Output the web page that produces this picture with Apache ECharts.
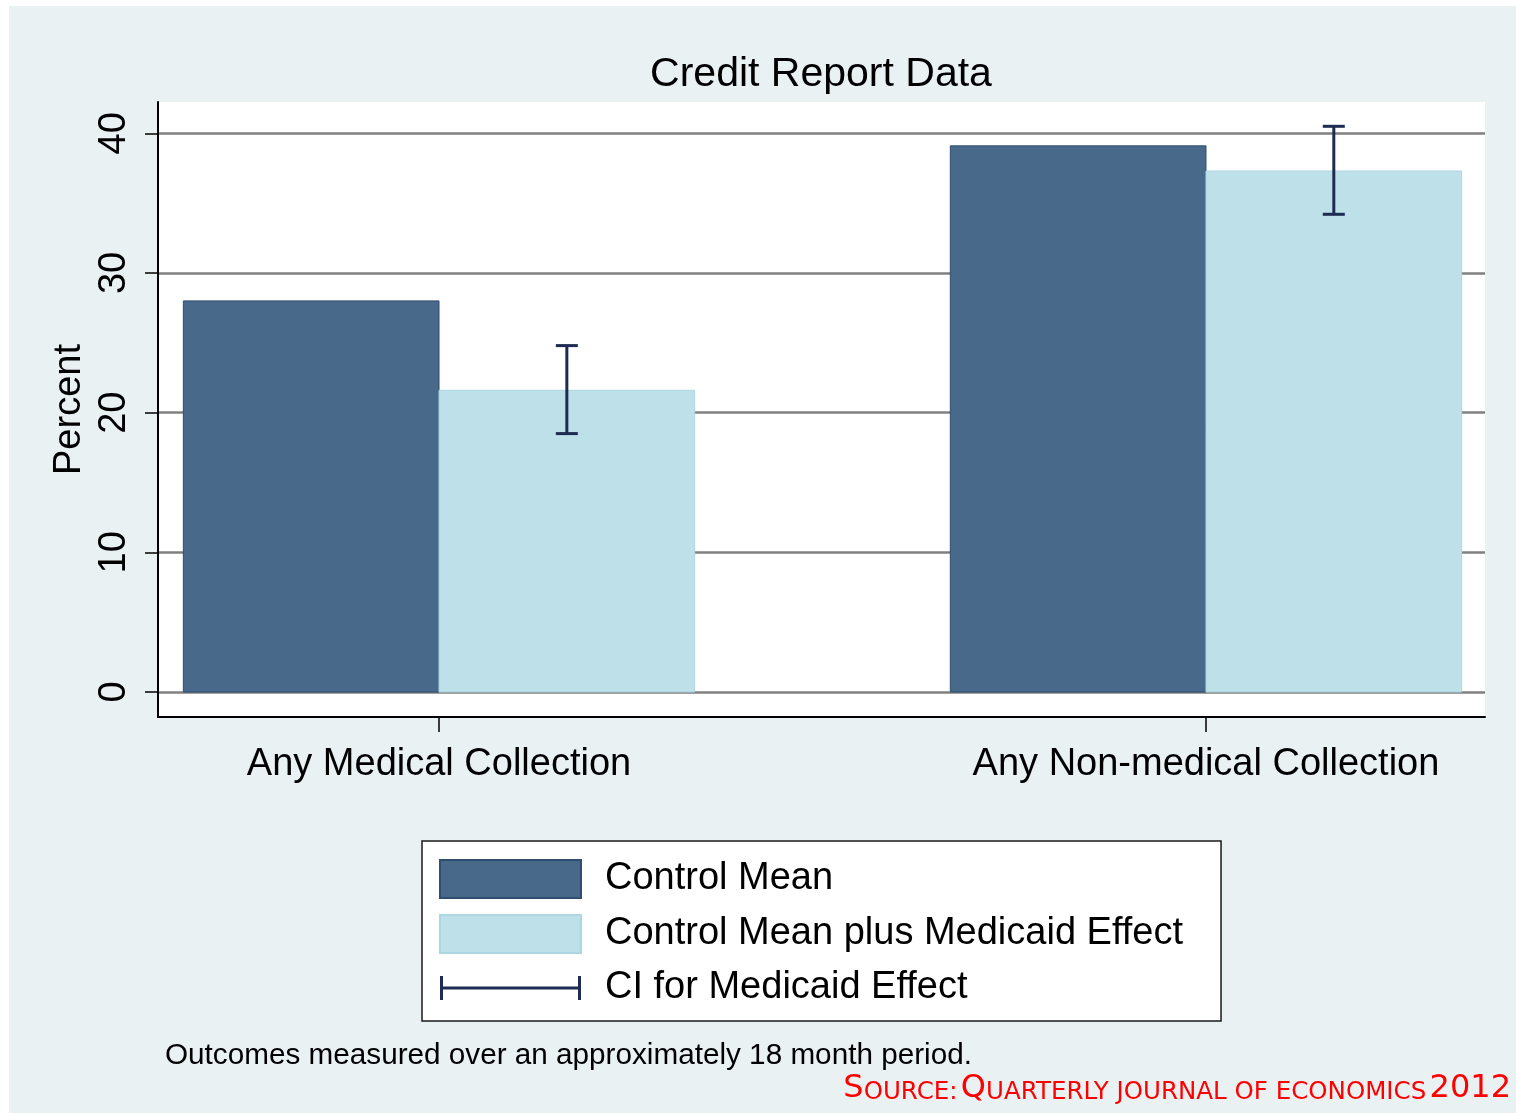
<!DOCTYPE html>
<html>
<head>
<meta charset="utf-8">
<script src="https://cdn.jsdelivr.net/npm/echarts@6/dist/echarts.min.js"></script>
<style>
  html, body { margin: 0; padding: 0; background: #fff; }
  #bg { position: absolute; left: 9px; top: 6px; width: 1507px; height: 1107px; background: #e9f1f3; }
  #main { position: absolute; left: 0; top: 0; width: 1516px; height: 1113px; }
</style>
</head>
<body>
<div id="bg"></div>
<div id="main"></div>
<script>
// data
var categories = ['Any Medical Collection', 'Any Non-medical Collection'];
var controlMean = [28.0, 39.1];
var medicaidMean = [21.6, 37.3];
var ciLow = [18.5, 34.2];
var ciHigh = [24.8, 40.5];
var yTicks = [0, 10, 20, 30, 40];

var FONT = '"Liberation Sans", Arial, sans-serif';
var DARK = '#48698a';
var LIGHT = '#bde0e9';
var CI_COLOR = '#1e2b52';
var BAR_W = 1 / 3; // bar width in x-axis units

// category i sits at x = i + 1
var xPos = categories.map(function (c, i) { return i + 1; });
var controlData = xPos.map(function (x, i) { return [x, controlMean[i]]; });
var medicaidData = xPos.map(function (x, i) { return [x, medicaidMean[i]]; });
var ciData = xPos.map(function (x, i) { return [x, ciLow[i], ciHigh[i]]; });

function barItem(offset, fill, stroke) {
    return function (params, api) {
        var x = api.value(0);
        var p0 = api.coord([x + offset, api.value(1)]);
        var p1 = api.coord([x + offset + BAR_W, 0]);
        return {
            type: 'rect',
            shape: { x: p0[0], y: p0[1], width: p1[0] - p0[0], height: p1[1] - p0[1] },
            style: { fill: fill, stroke: stroke, lineWidth: 1 }
        };
    };
}

function ciItem(params, api) {
    var x = api.value(0) + BAR_W / 2;
    var lo = api.coord([x, api.value(1)]);
    var hi = api.coord([x, api.value(2)]);
    var cap = 11;
    var st = { stroke: CI_COLOR, lineWidth: 3 };
    return {
        type: 'group',
        children: [
            { type: 'line', shape: { x1: hi[0], y1: hi[1], x2: lo[0], y2: lo[1] }, style: st },
            { type: 'line', shape: { x1: hi[0] - cap, y1: hi[1], x2: hi[0] + cap, y2: hi[1] }, style: st },
            { type: 'line', shape: { x1: lo[0] - cap, y1: lo[1], x2: lo[0] + cap, y2: lo[1] }, style: st }
        ]
    };
}

// legend icon for the CI: two end caps and a bar (tiny corner dots keep the box size)
var ciIcon = 'path://M0,0h0.01v0.01h-0.01z M140.99,37.99h0.01v0.01h-0.01z ' +
    'M0,7h3v24h-3z M0,17.5h141v3h-141z M138,7h3v24h-3z';

var chart = echarts.init(document.getElementById('main'));

var option = {
    backgroundColor: 'transparent',
    animation: false,
    title: {
        text: 'Credit Report Data',
        left: 821,
        top: 54,
        padding: 0,
        textAlign: 'center',
        textVerticalAlign: 'top',
        textStyle: { fontFamily: FONT, fontSize: 41, fontWeight: 'normal', color: '#000' }
    },
    grid: {
        left: 158, right: 31, top: 102, bottom: 396,
        show: true, backgroundColor: '#fff', borderWidth: 0
    },
    xAxis: {
        type: 'value',
        min: 0.6336,
        max: 2.3638,
        axisLine: { onZero: false, lineStyle: { color: '#000', width: 2 } },
        axisTick: { customValues: xPos, length: 15, lineStyle: { color: '#000', width: 1.5 } },
        axisLabel: {
            customValues: xPos,
            margin: 29,
            fontFamily: FONT, fontSize: 38, color: '#000',
            formatter: function (v) { return categories[Math.round(v) - 1]; }
        },
        splitLine: { show: false }
    },
    yAxis: {
        type: 'value',
        min: -1.79,
        max: 42.24,
        name: 'Percent',
        nameLocation: 'middle',
        nameGap: 63,
        nameTextStyle: { fontFamily: FONT, fontSize: 38, color: '#000' },
        axisLine: { show: true, onZero: false, lineStyle: { color: '#000', width: 2 } },
        axisTick: { show: true, customValues: yTicks, length: 13, lineStyle: { color: '#000', width: 1.5 } },
        axisLabel: {
            customValues: yTicks,
            rotate: 90,
            margin: 24,
            fontFamily: FONT, fontSize: 38, color: '#000'
        },
        splitLine: { show: true, lineStyle: { color: '#808080', width: 2.5 } }
    },
    legend: {
        orient: 'vertical',
        left: 422,
        top: 841,
        padding: [18, 38, 14, 17],
        itemWidth: 141,
        itemHeight: 38,
        itemGap: 15,
        backgroundColor: '#fff',
        borderColor: '#1a1a1a',
        borderWidth: 1.5,
        borderRadius: 0,
        textStyle: { fontFamily: FONT, fontSize: 38, color: '#000', lineHeight: 38, padding: [0, 0, 0, 19] },
        data: [
            { name: 'Control Mean', icon: 'rect' },
            { name: 'Control Mean plus Medicaid Effect', icon: 'rect' },
            { name: 'CI for Medicaid Effect', icon: ciIcon }
        ]
    },
    graphic: [
        {
            type: 'text', left: 165, top: 1041,
            style: {
                text: 'Outcomes measured over an approximately 18 month period.',
                fontFamily: FONT, fontSize: 29.7, fill: '#000'
            }
        },
        {
            type: 'text', right: 5, top: 1073,
            style: {
                text: '{b|S}{s|OURCE:} {b|Q}{s|UARTERLY JOURNAL OF ECONOMICS} {b|2012}',
                fill: '#f00',
                rich: {
                    b: { fontFamily: '"DejaVu Sans", sans-serif', fontSize: 32, fill: '#f00', verticalAlign: 'bottom', lineHeight: 32 },
                    s: { fontFamily: '"DejaVu Sans", sans-serif', fontSize: 24.5, fill: '#f00', verticalAlign: 'bottom', lineHeight: 32 }
                }
            }
        }
    ],
    series: [
        {
            name: 'Control Mean',
            type: 'custom',
            renderItem: barItem(-BAR_W, DARK, '#2f4d6e'),
            itemStyle: { color: DARK, borderColor: '#2f4d6e', borderWidth: 1 },
            encode: { x: 0, y: 1 },
            data: controlData,
            z: 3
        },
        {
            name: 'Control Mean plus Medicaid Effect',
            type: 'custom',
            renderItem: barItem(0, LIGHT, '#acd6e2'),
            itemStyle: { color: LIGHT, borderColor: '#acd6e2', borderWidth: 1 },
            encode: { x: 0, y: 1 },
            data: medicaidData,
            z: 3
        },
        {
            name: 'CI for Medicaid Effect',
            type: 'custom',
            renderItem: ciItem,
            itemStyle: { color: CI_COLOR },
            encode: { x: 0, y: [1, 2] },
            data: ciData,
            z: 4
        }
    ]
};

chart.setOption(option);
</script>
</body>
</html>
